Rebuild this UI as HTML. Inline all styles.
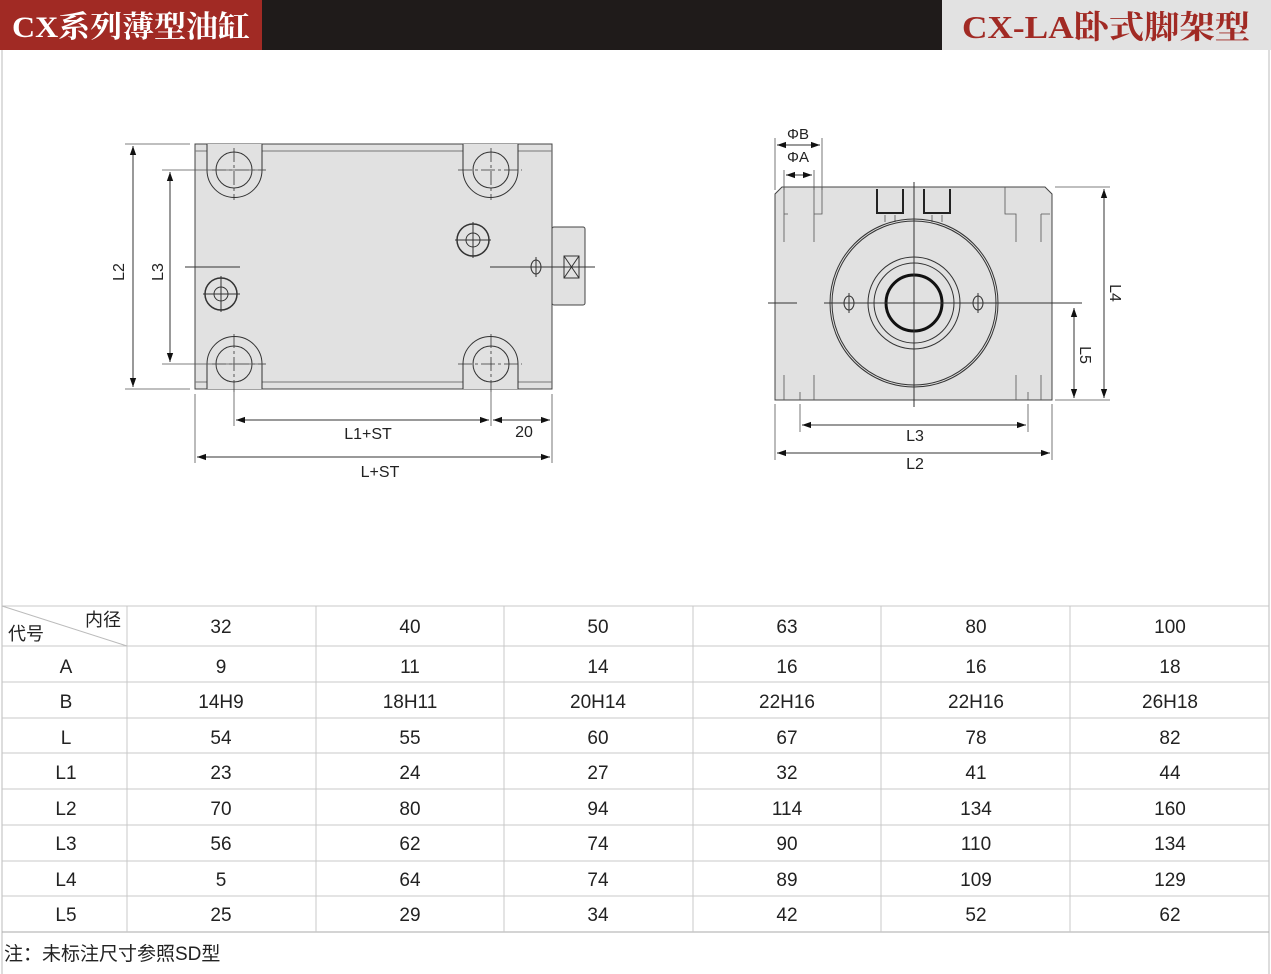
<!DOCTYPE html>
<html><head><meta charset="utf-8"><style>
html,body{margin:0;padding:0;background:#fff}
svg{display:block}
text{font-family:"Liberation Sans","Noto Sans CJK SC",sans-serif;fill:#222}
</style></head><body>
<svg width="1271" height="974" viewBox="0 0 1271 974" xmlns="http://www.w3.org/2000/svg">
<defs>
<marker id="a" viewBox="0 0 10 10" refX="10" refY="5" markerWidth="9" markerHeight="9" markerUnits="userSpaceOnUse" orient="auto-start-reverse"><path d="M0,1.5 L10,5 L0,8.5z" fill="#111"/></marker>
</defs>
<rect x="0" y="0" width="1271" height="50" fill="#1f1b1a"/>
<rect x="0" y="0" width="262" height="50" fill="#a12a24"/>
<rect x="942" y="0" width="329" height="50" fill="#e2e2e2"/>
<text x="12" y="37" font-weight="bold" font-size="30" textLength="238" lengthAdjust="spacingAndGlyphs" style="fill:#fff;font-family:'Liberation Serif','Noto Serif CJK SC',serif">CX系列薄型油缸</text>
<text x="962" y="38" font-weight="bold" font-size="32" textLength="288" lengthAdjust="spacingAndGlyphs" style="fill:#a12a24;font-family:'Liberation Serif','Noto Serif CJK SC',serif">CX-LA卧式脚架型</text>
<line x1="2" y1="50" x2="2" y2="974" stroke="#bbb"/>
<line x1="1269" y1="50" x2="1269" y2="974" stroke="#bbb"/>

<g stroke="#333" stroke-width="1" fill="none">
<rect x="195" y="144" width="357" height="245" fill="#e1e1e1" stroke="#444"/>
<rect x="552" y="227" width="33" height="78" fill="#e1e1e1" stroke="#444" rx="2"/>
<line x1="195" y1="151" x2="552" y2="151" stroke="#777"/>
<line x1="195" y1="382" x2="552" y2="382" stroke="#777"/>
<path d="M207,144 V170 A27,27 0 0 0 262,170 V144" fill="#e1e1e1"/>
<path d="M463,144 V170 A27,27 0 0 0 518,170 V144" fill="#e1e1e1"/>
<path d="M207,389 V364 A27,27 0 0 1 262,364 V389" fill="#e1e1e1"/>
<path d="M463,389 V364 A27,27 0 0 1 518,364 V389" fill="#e1e1e1"/>
<circle cx="234" cy="170" r="18"/><circle cx="491" cy="170" r="18"/>
<circle cx="234" cy="364" r="18"/><circle cx="491" cy="364" r="18"/>
<g stroke-width="0.8" stroke-dasharray="14,3,3,3">
<line x1="212" y1="170" x2="266" y2="170"/><line x1="234" y1="148" x2="234" y2="200"/>
<line x1="458" y1="170" x2="522" y2="170"/><line x1="491" y1="148" x2="491" y2="200"/>
<line x1="212" y1="364" x2="266" y2="364"/><line x1="234" y1="334" x2="234" y2="392"/>
<line x1="458" y1="364" x2="522" y2="364"/><line x1="491" y1="334" x2="491" y2="392"/>
</g>
<circle cx="221" cy="294" r="16" stroke-width="1.5"/><circle cx="221" cy="294" r="7"/>
<line x1="203" y1="294" x2="240" y2="294"/><line x1="221" y1="276" x2="221" y2="312"/>
<circle cx="473" cy="240" r="16" stroke-width="1.5"/><circle cx="473" cy="240" r="7"/>
<line x1="455" y1="240" x2="491" y2="240"/><line x1="473" y1="222" x2="473" y2="258"/>
<line x1="185" y1="267" x2="240" y2="267"/>
<line x1="490" y1="267" x2="595" y2="267"/>
<ellipse cx="536" cy="267" rx="5" ry="7"/><line x1="536" y1="257" x2="536" y2="277"/>
<rect x="564" y="256" width="15" height="22"/><path d="M564,256 L579,278 M579,256 L564,278"/>
<g stroke="#555" stroke-width="0.8">
<line x1="125" y1="144" x2="190" y2="144"/><line x1="125" y1="389" x2="190" y2="389"/>
<line x1="162" y1="170" x2="265" y2="170"/><line x1="162" y1="364" x2="265" y2="364"/>
<line x1="195" y1="394" x2="195" y2="463"/><line x1="552" y1="394" x2="552" y2="463"/>
<line x1="234" y1="392" x2="234" y2="426"/><line x1="491" y1="392" x2="491" y2="426"/>
</g>
<line x1="133" y1="146" x2="133" y2="387" marker-start="url(#a)" marker-end="url(#a)"/>
<line x1="170" y1="172" x2="170" y2="362" marker-start="url(#a)" marker-end="url(#a)"/>
<line x1="236" y1="420" x2="489" y2="420" marker-start="url(#a)" marker-end="url(#a)"/>
<line x1="493" y1="420" x2="550" y2="420" marker-start="url(#a)" marker-end="url(#a)"/>
<line x1="197" y1="457" x2="550" y2="457" marker-start="url(#a)" marker-end="url(#a)"/>
</g>
<text x="124" y="272" font-size="16" transform="rotate(-90 124 272)" text-anchor="middle">L2</text>
<text x="163" y="272" font-size="16" transform="rotate(-90 163 272)" text-anchor="middle">L3</text>
<text x="368" y="439" font-size="16" text-anchor="middle">L1+ST</text>
<text x="524" y="437" font-size="16" text-anchor="middle">20</text>
<text x="380" y="477" font-size="16" text-anchor="middle">L+ST</text>

<g stroke="#333" stroke-width="1" fill="none">
<path d="M782,187 H1045 L1052,194 V400 H775 V194 Z" fill="#e1e1e1" stroke="#444"/>
<g stroke="#555" stroke-width="0.8">
<path d="M784,187 V242 M814,187 V242 M814,214 H822 V187 M784,214 H788"/>
<path d="M1005,187 V214 H1016 V242 M1041,214 V242 M1041,214 H1050"/>
<path d="M784,400 V375 M814,400 V375 M800,400 V392 M1016,400 V375 M1041,400 V375 M1028,400 V392"/>
<path d="M885,215 V222 M895,215 V222 M932,215 V222 M942,215 V222"/>
</g>
<path d="M877,189 V213 H903 V189 M924,189 V213 H950 V189" stroke="#222" stroke-width="2"/>
<circle cx="914" cy="303" r="84"/><circle cx="914" cy="303" r="82"/>
<circle cx="914" cy="303" r="46"/><circle cx="914" cy="303" r="40"/>
<circle cx="914" cy="303" r="28" stroke="#111" stroke-width="3"/>
<ellipse cx="849" cy="303" rx="5" ry="7"/><ellipse cx="978" cy="303" rx="5" ry="7"/>
<line x1="849" y1="293" x2="849" y2="313"/><line x1="978" y1="293" x2="978" y2="313"/>
<line x1="768" y1="303" x2="797" y2="303"/><line x1="824" y1="303" x2="1082" y2="303"/>
<line x1="914" y1="182" x2="914" y2="407"/>
<g stroke="#555" stroke-width="0.8">
<line x1="775" y1="138" x2="775" y2="190"/><line x1="822" y1="138" x2="822" y2="190"/>
<line x1="784" y1="170" x2="784" y2="190"/><line x1="814" y1="170" x2="814" y2="190"/>
<line x1="1055" y1="187" x2="1110" y2="187"/><line x1="1055" y1="400" x2="1110" y2="400"/>
<line x1="775" y1="404" x2="775" y2="460"/><line x1="1052" y1="404" x2="1052" y2="460"/>
<line x1="800" y1="404" x2="800" y2="432"/><line x1="1028" y1="404" x2="1028" y2="432"/>
</g>
<line x1="777" y1="145" x2="820" y2="145" marker-start="url(#a)" marker-end="url(#a)"/>
<line x1="786" y1="175" x2="812" y2="175" marker-start="url(#a)" marker-end="url(#a)"/>
<line x1="1104" y1="189" x2="1104" y2="398" marker-start="url(#a)" marker-end="url(#a)"/>
<line x1="1074" y1="308" x2="1074" y2="398" marker-start="url(#a)" marker-end="url(#a)"/>
<line x1="802" y1="425" x2="1026" y2="425" marker-start="url(#a)" marker-end="url(#a)"/>
<line x1="777" y1="453" x2="1050" y2="453" marker-start="url(#a)" marker-end="url(#a)"/>
</g>
<text x="798" y="139" font-size="15" text-anchor="middle">ΦB</text>
<text x="798" y="162" font-size="15" text-anchor="middle">ΦA</text>
<text x="1110" y="293" font-size="16" transform="rotate(90 1110 293)" text-anchor="middle">L4</text>
<text x="1080" y="355" font-size="16" transform="rotate(90 1080 355)" text-anchor="middle">L5</text>
<text x="915" y="441" font-size="16" text-anchor="middle">L3</text>
<text x="915" y="469" font-size="16" text-anchor="middle">L2</text>

<g stroke="#c8c8c8" stroke-width="1">
<line x1="2" y1="606" x2="1269" y2="606"/>
<line x1="2" y1="646" x2="1269" y2="646"/>
<line x1="2" y1="682" x2="1269" y2="682"/>
<line x1="2" y1="718" x2="1269" y2="718"/>
<line x1="2" y1="753" x2="1269" y2="753"/>
<line x1="2" y1="789" x2="1269" y2="789"/>
<line x1="2" y1="825" x2="1269" y2="825"/>
<line x1="2" y1="861" x2="1269" y2="861"/>
<line x1="2" y1="896" x2="1269" y2="896"/>
<line x1="2" y1="932" x2="1269" y2="932" stroke="#aaa"/>
<line x1="127" y1="606" x2="127" y2="932"/>
<line x1="316" y1="606" x2="316" y2="932"/>
<line x1="504" y1="606" x2="504" y2="932"/>
<line x1="693" y1="606" x2="693" y2="932"/>
<line x1="881" y1="606" x2="881" y2="932"/>
<line x1="1070" y1="606" x2="1070" y2="932"/>
<line x1="2" y1="606" x2="127" y2="646" stroke="#bbb"/>
</g>
<text x="85" y="626" font-size="18">内径</text>
<text x="8" y="640" font-size="18">代号</text>
<g font-size="19" text-anchor="middle">
<text x="221" y="633">32</text><text x="410" y="633">40</text><text x="598" y="633">50</text><text x="787" y="633">63</text><text x="976" y="633">80</text><text x="1170" y="633">100</text>
<text x="66" y="673">A</text><text x="221" y="673">9</text><text x="410" y="673">11</text><text x="598" y="673">14</text><text x="787" y="673">16</text><text x="976" y="673">16</text><text x="1170" y="673">18</text>
<text x="66" y="708">B</text><text x="221" y="708">14H9</text><text x="410" y="708">18H11</text><text x="598" y="708">20H14</text><text x="787" y="708">22H16</text><text x="976" y="708">22H16</text><text x="1170" y="708">26H18</text>
<text x="66" y="744">L</text><text x="221" y="744">54</text><text x="410" y="744">55</text><text x="598" y="744">60</text><text x="787" y="744">67</text><text x="976" y="744">78</text><text x="1170" y="744">82</text>
<text x="66" y="779">L1</text><text x="221" y="779">23</text><text x="410" y="779">24</text><text x="598" y="779">27</text><text x="787" y="779">32</text><text x="976" y="779">41</text><text x="1170" y="779">44</text>
<text x="66" y="815">L2</text><text x="221" y="815">70</text><text x="410" y="815">80</text><text x="598" y="815">94</text><text x="787" y="815">114</text><text x="976" y="815">134</text><text x="1170" y="815">160</text>
<text x="66" y="850">L3</text><text x="221" y="850">56</text><text x="410" y="850">62</text><text x="598" y="850">74</text><text x="787" y="850">90</text><text x="976" y="850">110</text><text x="1170" y="850">134</text>
<text x="66" y="886">L4</text><text x="221" y="886">5</text><text x="410" y="886">64</text><text x="598" y="886">74</text><text x="787" y="886">89</text><text x="976" y="886">109</text><text x="1170" y="886">129</text>
<text x="66" y="921">L5</text><text x="221" y="921">25</text><text x="410" y="921">29</text><text x="598" y="921">34</text><text x="787" y="921">42</text><text x="976" y="921">52</text><text x="1170" y="921">62</text>
</g>
<text x="4" y="960" font-size="19">注：未标注尺寸参照SD型</text>
</svg>
</body></html>
